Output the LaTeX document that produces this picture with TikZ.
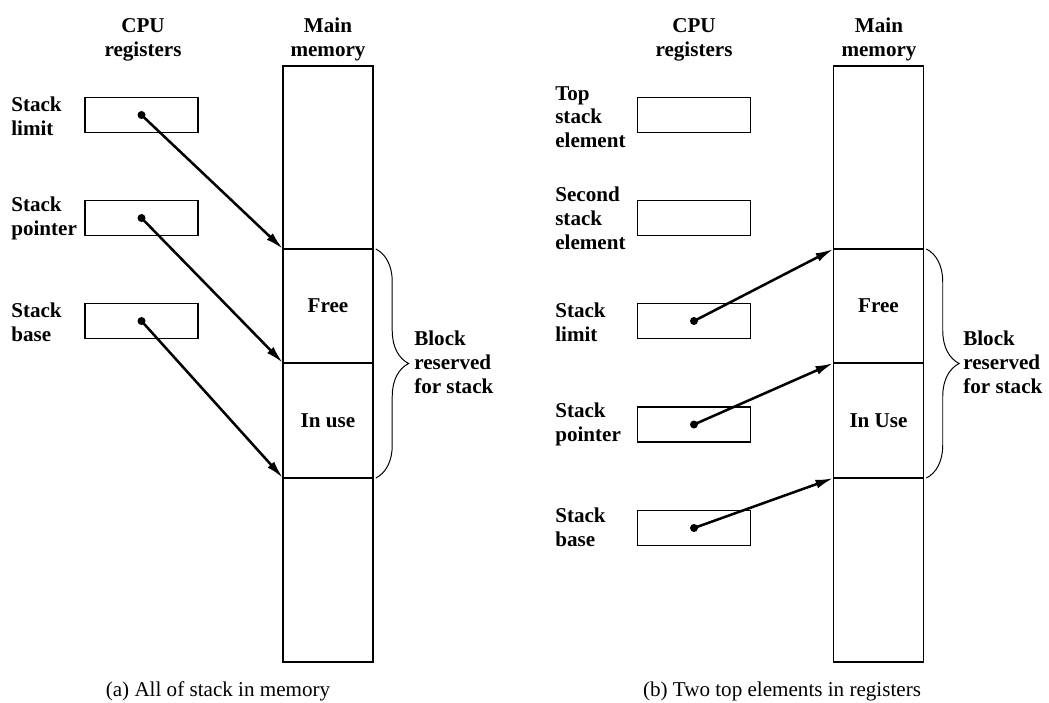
\documentclass[tikz,border=0pt]{standalone}
\usepackage{fontspec}
\setmainfont{Liberation Serif}
\usetikzlibrary{arrows.meta, decorations.pathreplacing}

\tikzset{
  reg/.style={draw, line width=0.9pt, minimum width=2.825cm, minimum height=0.875cm, inner sep=0pt, outer sep=0pt},
  cell/.style={draw, line width=0.9pt, minimum width=2.25cm, inner sep=0pt, outer sep=0pt,
    font=\fontsize{15}{17}\selectfont\bfseries},
  lbl/.style={anchor=north west, align=left, inner sep=0pt, font=\fontsize{15}{17}\selectfont\bfseries},
  head/.style={anchor=north, align=center, inner sep=0pt, font=\fontsize{15}{17}\selectfont\bfseries},
  capt/.style={inner sep=0pt, font=\fontsize{15}{17}\selectfont},
  ptr/.style={-{Latex[length=0.45cm, width=0.22cm]}, line width=1.8pt},
  dot/.style={circle, fill, inner sep=0pt, minimum size=0.2cm},
  blockbrace/.style={decorate, decoration={brace, amplitude=0.82cm}, line width=0.7pt},
}

\begin{document}
\begin{tikzpicture}[x=0.025cm, y=0.025cm]
  \useasboundingbox (0,0) rectangle (1049,-702);

  % (a) everything kept in main memory
  \node[head] (cpuA) at (143,-18) {CPU\\registers};
  \node[head] (memA) at (328,-18) {Main\\memory};

  \node[lbl] (limlblA) at (11,-97) {Stack\\limit};
  \node[lbl] (ptrlblA) at (11,-197) {Stack\\pointer};
  \node[lbl] (baselblA) at (11,-303) {Stack\\base};
  \node[reg] (limA) at (141.5,-115) {};
  \node[reg] (ptrA) at (141.5,-218) {};
  \node[reg] (baseA) at (141.5,-321) {};

  \node[cell, minimum height=4.575cm] (topA) at (328,-157.5) {};
  \node[cell, minimum height=2.85cm] (freeA) at (328,-306) {Free};
  \node[cell, minimum height=2.875cm] (useA) at (328,-420.5) {In use};
  \node[cell, minimum height=4.6cm] (botA) at (328,-570) {};

  \node[dot] (limdotA) at (limA.center) {};
  \node[dot] (ptrdotA) at (ptrA.center) {};
  \node[dot] (basedotA) at (baseA.center) {};
  \draw[ptr] (limdotA.center) -- (freeA.north west);
  \draw[ptr] (ptrdotA.center) -- (useA.north west);
  \draw[ptr] (basedotA.center) -- (useA.south west);

  \draw[blockbrace] ([xshift=2pt]freeA.north east) -- ([xshift=2pt]useA.south east);
  \node[lbl, anchor=west] (blockA) at (414,-362) {Block\\reserved\\for stack};

  \node[capt] (captA) at (218,-691) {(a) All of stack in memory};

  % (b) two top elements held in registers
  \node[head] (cpuB) at (694,-18) {CPU\\registers};
  \node[head] (memB) at (879,-18) {Main\\memory};

  \node[lbl] (toplblB) at (555,-86) {Top\\stack\\element};
  \node[lbl] (seclblB) at (555,-187) {Second\\stack\\element};
  \node[lbl] (limlblB) at (555,-303) {Stack\\limit};
  \node[lbl] (ptrlblB) at (555,-403) {Stack\\pointer};
  \node[lbl] (baselblB) at (555,-508) {Stack\\base};
  \node[reg] (topregB) at (694,-115) {};
  \node[reg] (secregB) at (694,-218) {};
  \node[reg] (limB) at (694,-321) {};
  \node[reg] (ptrB) at (694,-424.5) {};
  \node[reg] (baseB) at (694,-528) {};

  \node[cell, minimum height=4.575cm] (topB) at (878.5,-157.5) {};
  \node[cell, minimum height=2.85cm] (freeB) at (878.5,-306) {Free};
  \node[cell, minimum height=2.875cm] (useB) at (878.5,-420.5) {In Use};
  \node[cell, minimum height=4.6cm] (botB) at (878.5,-570) {};

  \node[dot] (limdotB) at (limB.center) {};
  \node[dot] (ptrdotB) at (ptrB.center) {};
  \node[dot] (basedotB) at (baseB.center) {};
  \draw[ptr] (limdotB.center) -- (freeB.north west);
  \draw[ptr] (ptrdotB.center) -- (useB.north west);
  \draw[ptr] (basedotB.center) -- (useB.south west);

  \draw[blockbrace] ([xshift=2pt]freeB.north east) -- ([xshift=2pt]useB.south east);
  \node[lbl, anchor=west] (blockB) at (963,-362) {Block\\reserved\\for stack};

  \node[capt] (captB) at (782,-691) {(b) Two top elements in registers};
\end{tikzpicture}
\end{document}
